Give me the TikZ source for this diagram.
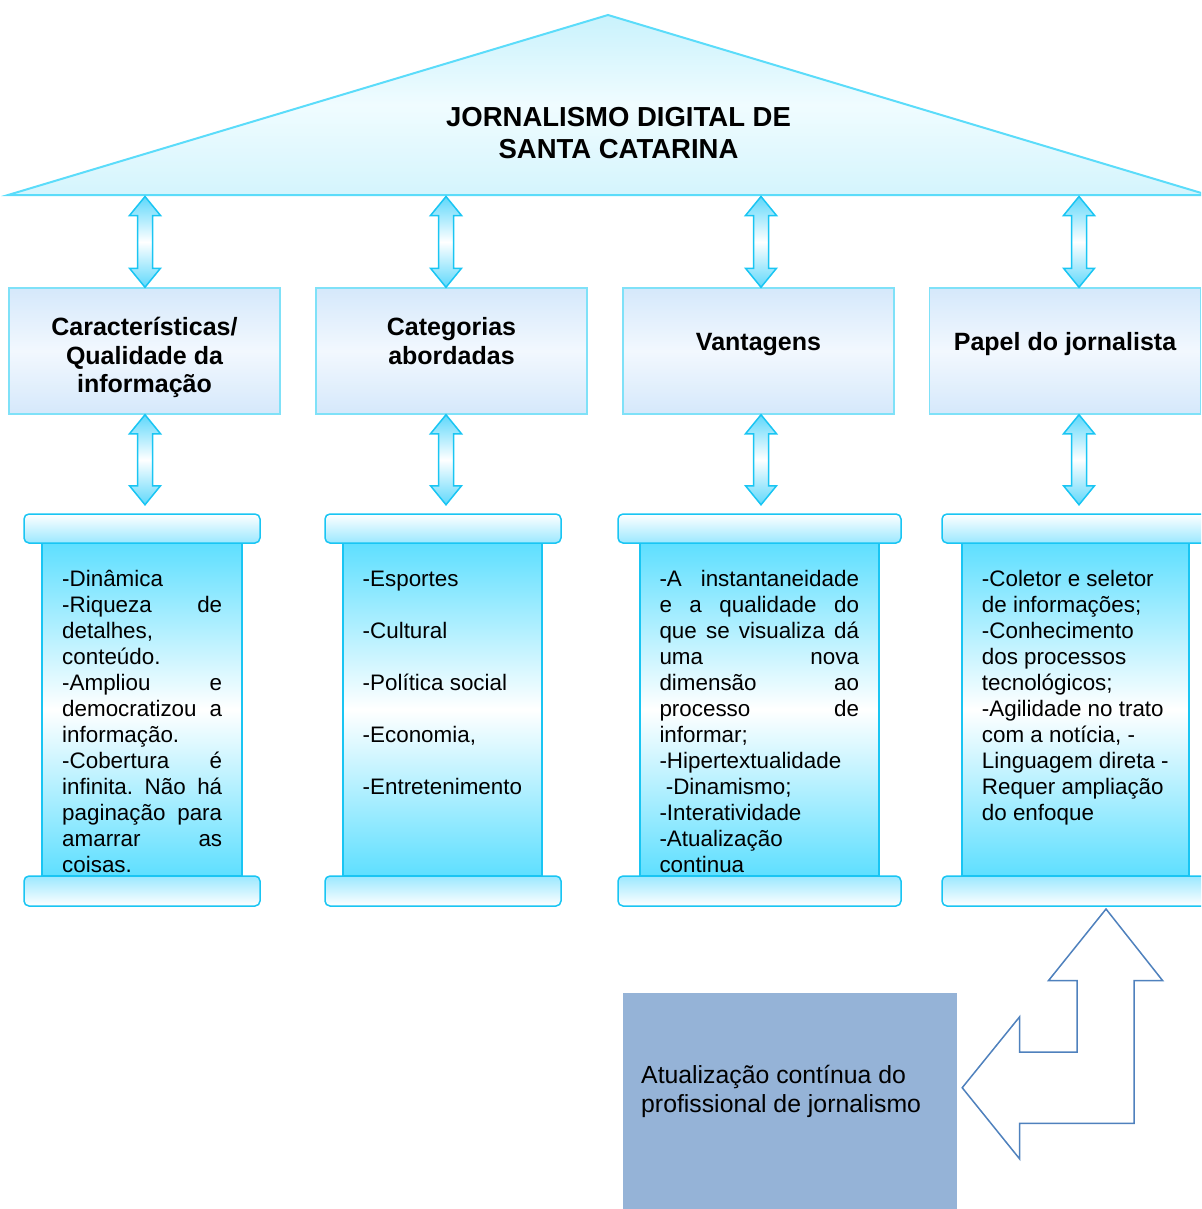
\documentclass[tikz,border=0pt]{standalone}
\usepackage{fontspec}
\setmainfont{Liberation Sans}
\usetikzlibrary{calc}
\definecolor{roofline}{HTML}{5BDCFA}
\definecolor{rooftop}{HTML}{C9F2FC}
\definecolor{roofmid}{HTML}{F0FCFF}
\definecolor{hdrline}{HTML}{7FE1F8}
\definecolor{hdrtop}{HTML}{D5E8FB}
\definecolor{hdrmid}{HTML}{F2F8FE}
\definecolor{arrline}{HTML}{19C5F3}
\definecolor{arrcyan}{HTML}{5FD8FB}
\definecolor{scyan}{HTML}{5EDFFF}
\definecolor{barcyan}{HTML}{9BE8FF}
\definecolor{updblue}{HTML}{95B3D7}
\definecolor{bentline}{HTML}{4F81BD}
\newcommand\dbl[3]{%
 \path[darrow] let \p1=#2, \p2=#3 in
 (#1pt,\y1) -- (#1pt+15.5pt,\y1-19pt) -- (#1pt+7.5pt,\y1-19pt) -- (#1pt+7.5pt,\y2+19pt)
 -- (#1pt+15.5pt,\y2+19pt) -- (#1pt,\y2) -- (#1pt-15.5pt,\y2+19pt) -- (#1pt-7.5pt,\y2+19pt)
 -- (#1pt-7.5pt,\y1-19pt) -- (#1pt-15.5pt,\y1-19pt) -- cycle;}
\begin{document}
\begin{tikzpicture}[x=1pt,y=-1pt,
  darrow/.style={draw=arrline, line width=1.5pt, top color=arrcyan, bottom color=arrcyan, middle color=white},
  hdr/.style={draw=hdrline, line width=1.5pt, top color=hdrtop, bottom color=hdrtop, middle color=hdrmid,
    minimum width=271pt, minimum height=126pt, inner sep=0pt},
  hdrtext/.style={font=\fontsize{25}{28.5}\selectfont\bfseries, align=center, inner sep=0pt, anchor=north},
  sbody/.style={draw=arrline, line width=1.5pt, top color=scyan, bottom color=scyan, middle color=white,
    minimum height=333pt, inner sep=0pt},
  sbar/.style={draw=arrline, line width=1.5pt, rounded corners=5pt, top color=white, bottom color=barcyan,
    minimum height=29pt, inner sep=0pt},
  sbarb/.style={draw=arrline, line width=1.5pt, rounded corners=5pt, top color=barcyan, bottom color=white,
    minimum height=30pt, inner sep=0pt},
  btext/.style={font=\fontsize{22.4}{26}\selectfont, inner sep=0pt, anchor=north west, align=left},
]
\useasboundingbox (0,0) rectangle (1201,1209);
\clip (0,0) rectangle (1201,1209);

% roof
\path[draw=roofline, line width=2pt, top color=rooftop, bottom color=rooftop!80!white, middle color=roofmid]
  (8,195) -- (608,15) -- (1208,195) -- cycle;
\node[font=\fontsize{27.5}{32}\selectfont\bfseries, align=center, inner sep=0pt] (title) at (618.5,133)
  {JORNALISMO DIGITAL DE\\SANTA CATARINA};
\coordinate (base) at (0,196.5);

% header boxes
\node[hdr] (h1) at (144.5,351) {};
\node[hdr] (h2) at (451.5,351) {};
\node[hdr] (h3) at (758.5,351) {};
\node[hdr] (h4) at (1065,351) {};
\node[hdrtext] (h1t) at (144.5,315.7) {\strut Características/\\Qualidade da\\informação};
\node[hdrtext] (h2t) at (451.5,315.7) {\strut Categorias\\abordadas};
\node[hdrtext] (h3t) at (758.5,330.7) {\strut Vantagens};
\node[hdrtext] (h4t) at (1065,330.7) {\strut Papel do jornalista};

% scrolls
\node[sbody, minimum width=200pt] (s1) at (142,709.5) {};
\node[sbar, minimum width=236pt] (s1top) at (142,528.5) {};
\node[sbarb, minimum width=236pt] (s1bot) at (142,891) {};
\node[sbody, minimum width=199pt] (s2) at (442.5,709.5) {};
\node[sbar, minimum width=236pt] (s2top) at (443,528.5) {};
\node[sbarb, minimum width=236pt] (s2bot) at (443,891) {};
\node[sbody, minimum width=239pt] (s3) at (759.5,709.5) {};
\node[sbar, minimum width=283pt] (s3top) at (759.5,528.5) {};
\node[sbarb, minimum width=283pt] (s3bot) at (759.5,891) {};
\node[sbody, minimum width=227pt] (s4) at (1075.5,709.5) {};
\node[sbar, minimum width=267pt] (s4top) at (1075.5,528.5) {};
\node[sbarb, minimum width=267pt] (s4bot) at (1075.5,891) {};

% arrows
\dbl{145}{(base)}{(h1.north)}
\dbl{446}{(base)}{(h2.north)}
\dbl{761}{(base)}{(h3.north)}
\dbl{1079}{(base)}{(h4.north)}
\dbl{145}{(h1.south)}{($(s1top.north)+(0,-8.5)$)}
\dbl{446}{(h2.south)}{($(s2top.north)+(0,-8.5)$)}
\dbl{761}{(h3.south)}{($(s3top.north)+(0,-8.5)$)}
\dbl{1079}{(h4.south)}{($(s4top.north)+(0,-8.5)$)}

% scroll texts
\node[btext, text width=160pt] (t1) at (62,567.8) {\strut -Dinâmica\\
-Riqueza\hfill de\\
detalhes,\\
conteúdo.\\
-Ampliou\hfill e\\
democratizou\hfill a\\
informação.\\
-Cobertura\hfill é\\
infinita.\hfill Não\hfill há\\
paginação\hfill para\\
amarrar\hfill as\\
coisas.};
\node[btext] (t2) at (362.5,567.8) {\strut -Esportes\\[26pt]-Cultural\\[26pt]-Política social\\[26pt]-Economia,\\[26pt]-Entretenimento};
\node[btext, text width=199.5pt] (t3) at (659.3,567.8) {\strut -A\hfill instantaneidade\\
e\hfill a\hfill qualidade\hfill do\\
que\hfill se\hfill visualiza\hfill dá\\
uma\hfill nova\\
dimensão\hfill ao\\
processo\hfill de\\
informar;\\
-Hipertextualidade\\
\hspace*{6.3pt}-Dinamismo;\\
-Interatividade\\
-Atualização\\
continua};
\node[btext] (t4) at (981.7,567.8) {\strut -Coletor e seletor\\
de informações;\\
-Conhecimento\\
dos processos\\
tecnológicos;\\
-Agilidade no trato\\
com a notícia, -\\
Linguagem direta -\\
Requer ampliação\\
do enfoque};

% update box
\node[fill=updblue, minimum width=334pt, minimum height=230pt, anchor=north west, inner sep=0pt] (upd) at (623,993) {};
\node[font=\fontsize{24.8}{29}\selectfont, inner sep=0pt, anchor=north west, align=left] (updt) at (641,1062.7)
  {\strut Atualização contínua do\\profissional de jornalismo};

% bent arrow
\draw[bentline, line width=1.5pt, fill=white]
  (1106,909) -- (1162.7,980.7) -- (1134,980.7) -- (1134,1123.3) -- (1019.7,1123.3) -- (1019.7,1159)
  -- (962.2,1087.7) -- (1019.7,1016.7) -- (1019.7,1052) -- (1077,1052) -- (1077,980.7) -- (1048.4,980.7) -- cycle;
\end{tikzpicture}
\end{document}
